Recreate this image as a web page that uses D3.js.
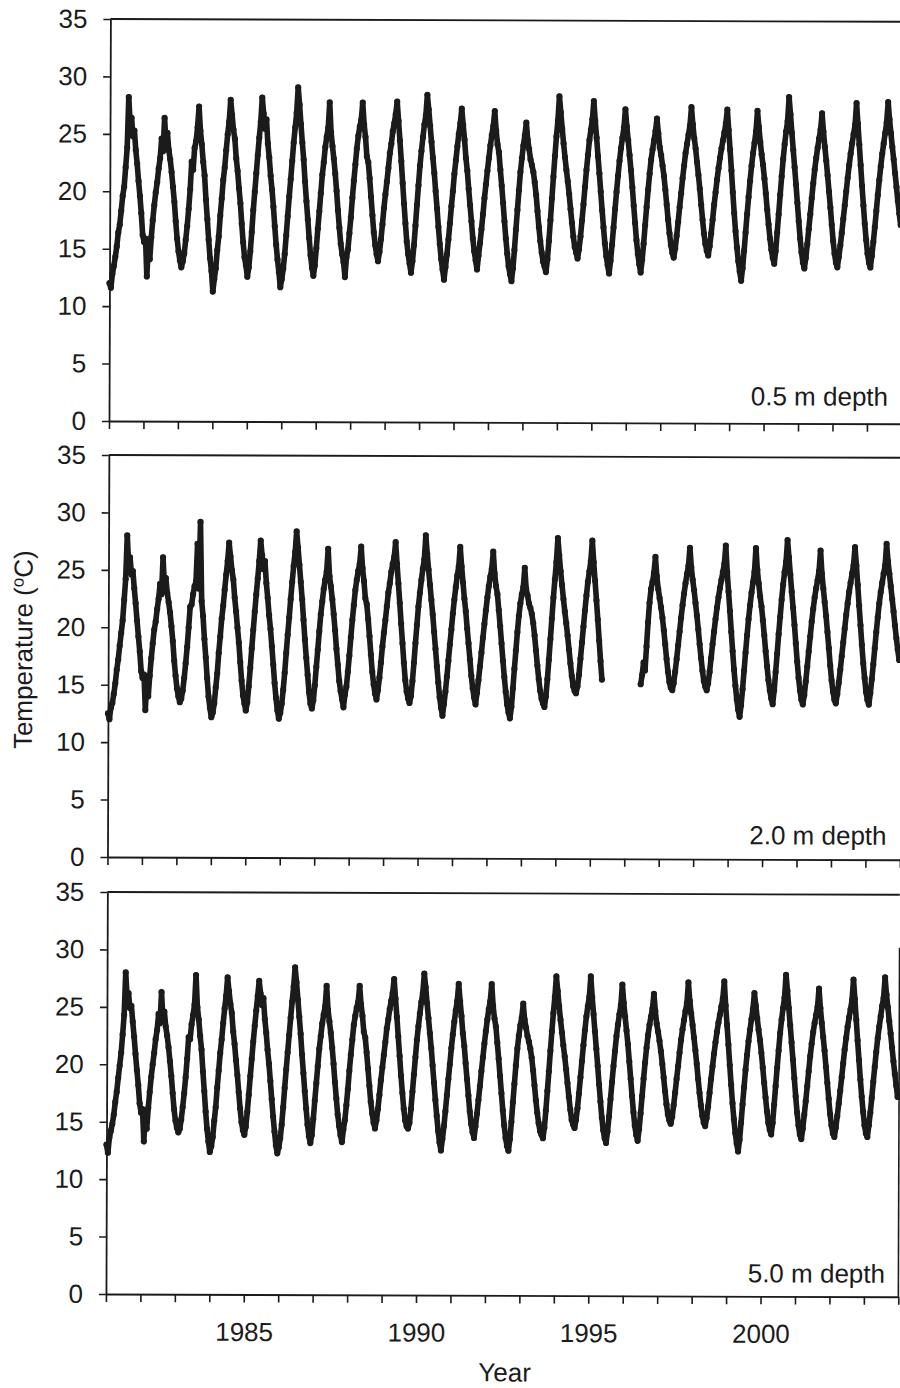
<!DOCTYPE html>
<html><head><meta charset="utf-8">
<script src="https://cdn.jsdelivr.net/npm/d3@7"></script>
<style>
html,body{margin:0;padding:0;background:#fff;}
svg{display:block;}
</style></head><body>
<svg id="chart" width="900" height="1388"></svg>
<script>
// ---------- data ----------
const startYear = 1981;
const endYear = 2004;
const samplesPerYear = 24;           // one reading every half month
const yTicks = [0, 5, 10, 15, 20, 25, 30, 35];
const xTickYears = [1981,1982,1983,1984,1985,1986,1987,1988,1989,1990,1991,1992,1993,1994,1995,1996,1997,1998,1999,2000,2001,2002,2003,2004];
const xLabelYears = [1985, 1990, 1995, 2000];
const panelLabels = ["0.5 m depth", "2.0 m depth", "5.0 m depth"];
const yTitle = "Temperature (";
const yTitleSup = "o";
const yTitleEnd = "C)";
const xTitle = "Year";

const depth05 = [
12.0,11.6,12.8,13.5,14.3,15.2,16.4,17.1,18.3,19.6,20.4,22.1,23.8,28.2,25.9,
26.4,24.8,25.3,23.6,22.4,20.9,19.6,18.1,16.2,15.6,15.9,12.6,
15.2,14.1,16.0,17.5,18.8,19.9,20.8,22.0,22.9,24.6,23.5,26.4,
24.2,25.1,23.6,22.8,21.7,20.4,19.1,17.4,15.9,14.8,14.0,13.4,
13.9,14.6,15.8,17.0,18.5,20.2,22.6,21.9,23.8,24.4,25.6,27.4,
25.3,24.1,22.6,21.4,19.3,17.6,15.8,14.2,13.1,11.3,
12.4,13.3,14.9,16.1,17.9,19.4,21.0,22.1,23.6,25.0,26.1,28.0,
26.7,25.4,24.6,22.9,21.8,20.3,19.0,17.2,15.6,14.3,13.6,12.6,
13.4,14.8,16.5,18.4,20.0,21.6,23.2,24.7,26.1,28.2,
26.8,25.5,26.3,24.2,23.0,21.4,20.2,18.7,17.0,15.4,14.1,13.0,11.7,
12.4,13.3,14.6,16.2,17.9,19.6,21.1,22.7,24.3,25.6,26.9,29.1,
27.6,25.9,24.3,22.8,20.9,19.2,17.6,16.0,14.5,13.4,12.7,
13.6,15.1,16.8,18.3,19.9,21.5,22.6,23.9,24.8,25.6,27.8,
25.2,24.0,22.9,21.6,20.1,18.4,16.9,15.5,14.6,13.9,12.6,
14.3,15.0,16.4,17.8,19.5,21.0,22.4,23.8,24.9,25.7,26.3,27.8,
25.9,24.8,23.1,22.6,21.2,19.6,18.0,16.5,15.4,14.6,14.0,
14.8,15.9,17.2,18.6,19.8,20.9,22.1,23.4,24.2,25.3,26.0,26.8,27.9,
26.2,24.5,22.7,20.8,19.0,17.3,15.7,14.6,13.8,13.0,
14.0,15.4,17.1,18.9,20.6,22.3,23.6,24.8,25.9,26.7,28.5,
27.2,25.8,24.4,23.0,21.7,20.1,18.6,17.0,15.5,14.2,13.3,12.4,
13.5,14.6,15.9,17.3,18.8,20.1,21.6,22.8,24.0,25.1,26.0,27.3,
25.9,24.6,23.0,21.9,20.3,18.9,17.5,16.0,14.9,14.1,13.3,
14.5,15.6,16.8,18.1,19.5,20.7,21.9,23.0,24.1,25.0,25.8,27.1,
25.4,24.2,23.5,22.0,20.6,19.1,17.5,16.0,14.7,13.6,12.9,12.3,
13.4,15.0,16.8,18.5,20.2,21.8,23.0,24.1,25.0,26.1,
24.6,23.8,22.9,22.4,21.8,20.9,19.8,18.4,17.0,15.8,14.8,14.0,13.6,13.1,
14.2,15.8,17.6,19.5,21.4,23.2,24.9,26.3,28.4,
27.0,25.6,24.3,23.1,22.0,21.0,19.9,18.6,17.4,16.2,15.3,14.8,14.3,
15.1,16.2,17.6,19.0,20.5,22.0,23.3,24.6,25.5,26.4,28.0,
26.3,24.8,23.2,21.7,20.1,18.5,17.0,15.6,14.5,13.7,13.0,
14.1,15.5,17.0,18.6,20.1,21.5,22.8,23.9,24.8,25.7,27.3,
25.8,24.6,23.3,22.0,20.5,18.9,17.4,15.9,14.7,13.8,13.1,
14.2,15.6,17.2,18.8,20.3,21.7,22.9,23.8,24.6,25.4,26.5,
25.2,24.0,23.3,22.4,21.5,20.3,19.0,17.7,16.5,15.5,14.8,14.4,
15.2,16.3,17.5,18.8,20.0,21.3,22.4,23.5,24.3,25.1,25.9,27.5,
26.0,24.8,23.9,22.7,21.6,20.4,19.0,17.7,16.5,15.6,15.0,14.6,
15.4,16.5,17.7,19.0,20.1,21.2,22.2,23.1,23.9,24.6,25.3,26.1,27.3,
25.5,23.8,22.0,20.1,18.3,16.7,15.3,14.1,13.2,12.4,
13.5,15.0,16.6,18.2,19.7,21.1,22.4,23.5,24.4,25.4,27.2,
25.8,24.5,23.4,22.5,21.3,20.0,18.6,17.3,16.1,15.1,14.4,13.9,
15.0,16.6,18.2,19.9,21.5,23.0,24.3,25.4,26.3,28.4,
26.9,25.3,23.8,22.3,20.8,19.2,17.6,16.1,14.9,14.0,13.5,
14.4,15.6,16.9,18.2,19.6,20.9,22.1,23.1,24.0,24.8,25.6,27.0,
25.4,24.1,22.9,21.6,20.2,18.8,17.3,15.9,14.8,14.0,13.6,
14.5,15.5,16.6,17.8,19.0,20.2,21.4,22.5,23.5,24.4,25.2,26.0,27.9,
26.1,24.3,22.5,20.7,19.0,17.4,16.0,14.8,14.0,13.6,
14.6,15.8,17.1,18.5,19.9,21.2,22.4,23.5,24.4,25.3,26.2,28.0,
26.5,25.3,24.1,23.0,21.8,20.6,19.4,18.3,17.3
];

const depth20 = [
12.5,12.0,13.0,13.4,14.2,15.1,16.3,17.2,18.4,19.5,20.6,22.4,24.2,28.0,25.6,
26.1,24.6,24.9,23.4,22.1,20.6,19.2,17.9,16.2,15.6,15.9,12.8,
15.3,14.0,15.8,17.3,18.6,19.8,20.5,21.6,22.5,23.8,22.9,26.1,
23.6,24.3,23.0,22.2,21.3,20.1,18.8,17.1,15.8,14.7,14.0,13.5,
13.8,14.5,15.6,16.9,18.3,20.0,21.8,22.0,22.9,23.6,24.0,27.3,
23.4,29.2,22.3,21.0,19.0,17.4,15.6,14.0,13.0,12.2,
12.6,13.4,14.8,16.0,17.8,19.2,20.8,21.9,23.3,24.6,25.8,27.4,
26.2,25.0,24.2,22.6,21.4,20.0,18.7,17.0,15.4,14.1,13.4,12.8,
13.5,14.9,16.5,18.2,19.8,21.4,22.9,24.3,25.8,27.6,
26.3,25.1,25.8,23.9,22.6,21.1,19.9,18.4,16.8,15.2,13.9,12.8,12.1,
12.6,13.4,14.6,16.1,17.8,19.4,20.9,22.5,24.0,25.4,26.6,28.4,
27.0,25.5,24.0,22.5,20.7,19.0,17.4,15.9,14.4,13.4,13.0,
13.7,15.0,16.6,18.1,19.7,21.2,22.3,23.4,24.2,24.9,26.9,
24.5,23.6,22.5,21.2,19.8,18.2,16.8,15.4,14.5,13.8,13.1,
14.2,14.9,16.2,17.6,19.2,20.7,22.0,23.3,24.2,25.0,25.6,27.1,
25.2,24.1,22.6,22.1,20.8,19.3,17.7,16.2,15.1,14.3,13.8,
14.6,15.7,17.0,18.4,19.6,20.7,21.9,23.1,23.9,24.9,25.6,26.2,27.5,
25.6,23.9,22.2,20.4,18.7,17.0,15.5,14.5,13.9,13.5,
14.1,15.4,17.0,18.7,20.3,21.9,23.1,24.2,25.2,26.0,28.1,
26.5,25.1,23.8,22.5,21.2,19.7,18.2,16.7,15.3,14.0,13.1,12.4,
13.4,14.5,15.8,17.2,18.6,19.9,21.3,22.5,23.6,24.6,25.4,27.1,
25.4,24.0,22.6,21.5,20.0,18.7,17.3,15.9,14.8,14.0,13.4,
14.4,15.5,16.7,17.9,19.2,20.4,21.6,22.7,23.7,24.5,25.2,26.7,
24.8,23.7,23.0,21.6,20.2,18.7,17.2,15.8,14.5,13.4,12.7,12.2,
13.2,14.8,16.5,18.1,19.7,21.1,22.2,23.0,23.6,25.3,
23.5,22.9,22.2,21.8,21.3,20.5,19.4,18.1,16.8,15.6,14.6,13.9,13.5,13.2,
14.1,15.6,17.3,19.1,20.9,22.7,24.3,25.8,27.9,
26.4,25.0,23.8,22.6,21.5,20.5,19.4,18.2,17.0,15.9,15.0,14.6,14.4,
15.0,16.0,17.4,18.8,20.2,21.6,22.9,24.1,25.0,25.9,27.7,
25.8,24.2,22.5,20.8,19.0,17.2,15.6,
null,null,null,null,null,null,null,null,null,null,null,null,null,
null,null,null,null,null,null,null,null,null,null,null,null,null,
15.2,16.0,17.1,16.4,18.5,20.6,22.3,23.5,24.1,24.9,26.3,
24.6,23.5,22.7,21.9,21.0,19.9,18.7,17.4,16.3,15.4,14.9,14.7,
15.3,16.3,17.4,18.6,19.8,21.0,22.1,23.1,24.0,24.8,25.5,27.1,
25.4,24.3,23.4,22.3,21.2,20.0,18.7,17.5,16.4,15.5,15.0,14.7,
15.3,16.3,17.5,18.7,19.8,20.9,21.9,22.8,23.6,24.3,25.0,25.7,27.3,
25.0,23.3,21.6,19.8,18.1,16.5,15.1,13.9,13.0,12.4,
13.4,14.8,16.4,18.0,19.5,20.9,22.1,23.2,24.1,25.0,27.1,
25.2,24.0,22.9,22.0,20.8,19.5,18.1,16.8,15.6,14.7,14.0,13.5,
14.7,16.3,17.9,19.6,21.1,22.6,23.9,25.0,25.9,27.8,
26.3,24.8,23.3,21.9,20.4,18.8,17.2,15.8,14.7,13.9,13.5,
14.3,15.5,16.8,18.1,19.4,20.7,21.8,22.8,23.6,24.3,25.1,26.9,
24.9,23.6,22.4,21.2,19.8,18.4,16.9,15.6,14.6,13.9,13.6,
14.4,15.4,16.5,17.7,18.9,20.1,21.3,22.3,23.3,24.1,24.9,25.6,27.2,
25.6,23.9,22.1,20.4,18.7,17.1,15.8,14.6,13.9,13.5,
14.5,15.7,17.0,18.4,19.8,21.1,22.3,23.3,24.1,24.9,25.6,27.5,
26.0,24.9,23.8,22.7,21.6,20.4,19.3,18.3,17.4
];

const depth50 = [
13.0,12.3,13.6,14.2,14.8,15.6,16.7,17.6,18.8,19.9,21.0,22.6,24.3,28.0,25.8,
26.2,24.9,25.1,23.7,22.4,20.9,19.5,18.2,16.6,15.8,16.1,13.3,
15.5,14.4,16.2,17.6,18.9,20.0,21.0,22.2,23.0,24.4,23.6,26.3,
24.0,24.6,23.3,22.5,21.5,20.3,19.0,17.5,16.1,15.1,14.5,14.1,
14.4,15.2,16.3,17.5,18.9,20.5,22.4,22.2,23.5,24.3,25.2,27.8,
25.0,23.9,22.5,21.3,19.4,17.7,15.9,14.4,13.3,12.4,
12.9,13.7,15.1,16.3,18.0,19.5,21.0,22.2,23.6,24.9,26.0,27.6,
26.4,25.3,24.5,22.9,21.8,20.4,19.1,17.6,16.2,15.0,14.3,13.9,
14.6,15.9,17.4,19.0,20.5,22.0,23.4,24.7,26.0,27.3,
26.2,25.2,25.8,24.0,22.8,21.3,20.1,18.6,17.0,15.5,14.2,13.0,12.3,
12.8,13.6,14.8,16.3,18.0,19.6,21.1,22.6,24.1,25.5,26.8,28.5,
27.2,25.7,24.2,22.7,20.9,19.3,17.7,16.2,14.8,13.8,13.2,
13.9,15.3,16.9,18.4,19.9,21.4,22.5,23.6,24.4,25.1,26.9,
24.8,23.8,22.8,21.5,20.1,18.5,17.1,15.7,14.7,13.9,13.3,
14.4,15.2,16.5,17.9,19.5,20.9,22.2,23.5,24.3,25.0,25.5,26.9,
25.3,24.3,22.9,22.4,21.1,19.7,18.2,16.8,15.8,15.0,14.5,
15.2,16.2,17.4,18.7,19.8,20.9,22.0,23.2,24.0,24.9,25.6,26.3,27.5,
25.8,24.2,22.5,20.8,19.1,17.6,16.2,15.2,14.7,14.5,
15.0,16.2,17.7,19.2,20.7,22.2,23.4,24.5,25.5,26.3,28.0,
26.8,25.4,24.1,22.8,21.5,20.0,18.5,17.0,15.6,14.3,13.3,12.6,
13.6,14.7,16.0,17.4,18.8,20.1,21.5,22.7,23.8,24.8,25.6,27.1,
25.6,24.3,22.8,21.7,20.2,18.8,17.4,16.0,14.9,14.2,13.7,
14.7,15.8,17.0,18.2,19.5,20.7,21.9,23.0,24.0,24.9,25.6,27.1,
25.2,24.1,23.4,22.0,20.6,19.1,17.6,16.1,14.8,13.7,13.0,12.6,
13.6,15.1,16.8,18.4,20.0,21.5,22.6,23.5,24.2,25.4,
24.0,23.3,22.6,22.1,21.5,20.7,19.6,18.3,17.0,15.9,15.0,14.3,14.0,13.7,
14.6,16.1,17.8,19.5,21.3,23.0,24.6,26.0,27.8,
26.5,25.2,24.0,22.9,21.8,20.8,19.7,18.5,17.3,16.2,15.3,14.9,14.6,
15.3,16.3,17.6,19.0,20.4,21.8,23.1,24.3,25.2,26.0,27.8,
26.0,24.5,23.0,21.5,20.0,18.4,16.9,15.5,14.4,13.7,13.3,
14.3,15.6,17.1,18.6,20.0,21.3,22.6,23.6,24.5,25.3,27.1,
25.5,24.3,23.1,21.9,20.4,18.9,17.4,16.0,14.8,14.0,13.5,
14.5,15.9,17.4,18.9,20.3,21.6,22.7,23.6,24.3,25.0,26.3,
24.8,23.7,23.0,22.2,21.3,20.2,19.0,17.8,16.7,15.8,15.3,15.0,
15.6,16.6,17.7,18.9,20.0,21.2,22.3,23.2,24.0,24.8,25.5,27.3,
25.7,24.6,23.6,22.5,21.4,20.2,18.9,17.7,16.6,15.7,15.1,14.8,
15.5,16.5,17.7,18.9,20.0,21.1,22.1,23.0,23.8,24.5,25.2,25.9,27.4,
25.3,23.6,21.9,20.1,18.4,16.8,15.4,14.2,13.3,12.6,
13.6,15.1,16.7,18.2,19.7,21.0,22.2,23.2,24.1,25.0,26.4,
25.3,24.2,23.2,22.3,21.2,19.9,18.6,17.3,16.1,15.1,14.5,14.1,
15.1,16.7,18.3,19.9,21.4,22.9,24.1,25.1,26.0,28.0,
26.6,25.1,23.6,22.1,20.6,19.0,17.4,16.0,14.9,14.1,13.7,
14.6,15.8,17.0,18.3,19.6,20.9,22.0,23.0,23.8,24.5,25.2,26.8,
25.1,23.8,22.6,21.4,20.0,18.6,17.2,15.9,14.9,14.2,13.9,
14.7,15.7,16.8,17.9,19.1,20.3,21.5,22.5,23.5,24.3,25.0,25.8,27.6,
25.9,24.1,22.3,20.6,18.9,17.4,16.1,14.9,14.2,13.9,
14.9,16.0,17.3,18.7,20.0,21.3,22.5,23.5,24.4,25.3,26.0,27.8,
26.3,25.2,24.0,22.9,21.7,20.5,19.4,18.4,17.4
];

// ---------- drawing ----------
const FONT = '"Liberation Sans", Arial, Helvetica, sans-serif';
const INK = "#1b1b1b";
const svg = d3.select("#chart");
svg.append("rect").attr("width", 900).attr("height", 1388).attr("fill", "#fff");
// the scanned original is tilted very slightly
const root = svg.append("g").attr("transform", "rotate(0.2,109,421)");

const plotLeft = 109, plotRight = 901.4, panelH = 402;
const panelTops = [19, 455, 892];
const labelOffsets = [18, 15, 14];
const series = [depth05, depth20, depth50];
const nSamples = (endYear - startYear) * samplesPerYear;

const x = d3.scaleLinear().domain([startYear, endYear]).range([plotLeft, plotRight]);

series.forEach((vals, p) => {
  if (vals.length !== nSamples) throw new Error("series " + p + " has " + vals.length + " values");
  const top = panelTops[p], bottom = top + panelH;
  const y = d3.scaleLinear().domain([0, 35]).range([bottom, top]);
  const g = root.append("g");

  const pts = vals.map((v, i) => ({ t: startYear + i / samplesPerYear, v }));

  g.append("path")
    .datum(pts)
    .attr("d", d3.line().defined(d => d.v != null).x(d => x(d.t)).y(d => y(d.v)))
    .attr("fill", "none").attr("stroke", INK).attr("stroke-width", 5.6)
    .attr("stroke-linejoin", "round").attr("stroke-linecap", "round");

  g.selectAll("circle.pt").data(pts.filter(d => d.v != null)).join("circle")
    .attr("class", "pt")
    .attr("cx", d => x(d.t)).attr("cy", d => y(d.v)).attr("r", 3.1).attr("fill", INK);

  // top frame line
  g.append("line").attr("x1", plotLeft).attr("x2", plotRight)
    .attr("y1", top).attr("y2", top).attr("stroke", INK).attr("stroke-width", 1.8);

  // left axis
  const ya = g.append("g").attr("transform", `translate(${plotLeft},0)`)
    .call(d3.axisLeft(y).tickValues(yTicks).tickSize(7).tickSizeOuter(0).tickPadding(16));
  // bottom axis
  const xa = g.append("g").attr("transform", `translate(0,${bottom})`)
    .call(d3.axisBottom(x).tickValues(xTickYears).tickSize(8).tickSizeOuter(0).tickPadding(20)
      .tickFormat(d => (p === 2 && xLabelYears.includes(d)) ? String(d) : ""));
  [ya, xa].forEach(a => {
    a.attr("font-family", FONT).attr("font-size", 26);
    a.select(".domain").attr("stroke", INK).attr("stroke-width", 1.8);
    a.selectAll(".tick line").attr("stroke", INK).attr("stroke-width", 1.6);
    a.selectAll(".tick text").attr("fill", INK);
  });

  if (p === 2) {
    g.append("line").attr("x1", plotRight).attr("x2", plotRight)
      .attr("y1", top + 53).attr("y2", bottom).attr("stroke", INK).attr("stroke-width", 1.6);
  }

  g.append("text").attr("x", 888).attr("y", bottom - labelOffsets[p])
    .attr("text-anchor", "end").attr("font-family", FONT).attr("font-size", 26)
    .attr("fill", INK).text(panelLabels[p]);
});

// axis titles
const yt = root.append("text").attr("transform", "translate(33,650) rotate(-90)")
  .attr("text-anchor", "middle").attr("font-family", FONT).attr("font-size", 26).attr("fill", INK);
yt.append("tspan").text(yTitle);
yt.append("tspan").attr("font-size", 17).attr("dy", -9).text(yTitleSup);
yt.append("tspan").attr("dy", 9).text(yTitleEnd);

root.append("text").attr("x", 508).attr("y", 1380).attr("text-anchor", "middle")
  .attr("font-family", FONT).attr("font-size", 26).attr("fill", INK).text(xTitle);
</script>
</body></html>
